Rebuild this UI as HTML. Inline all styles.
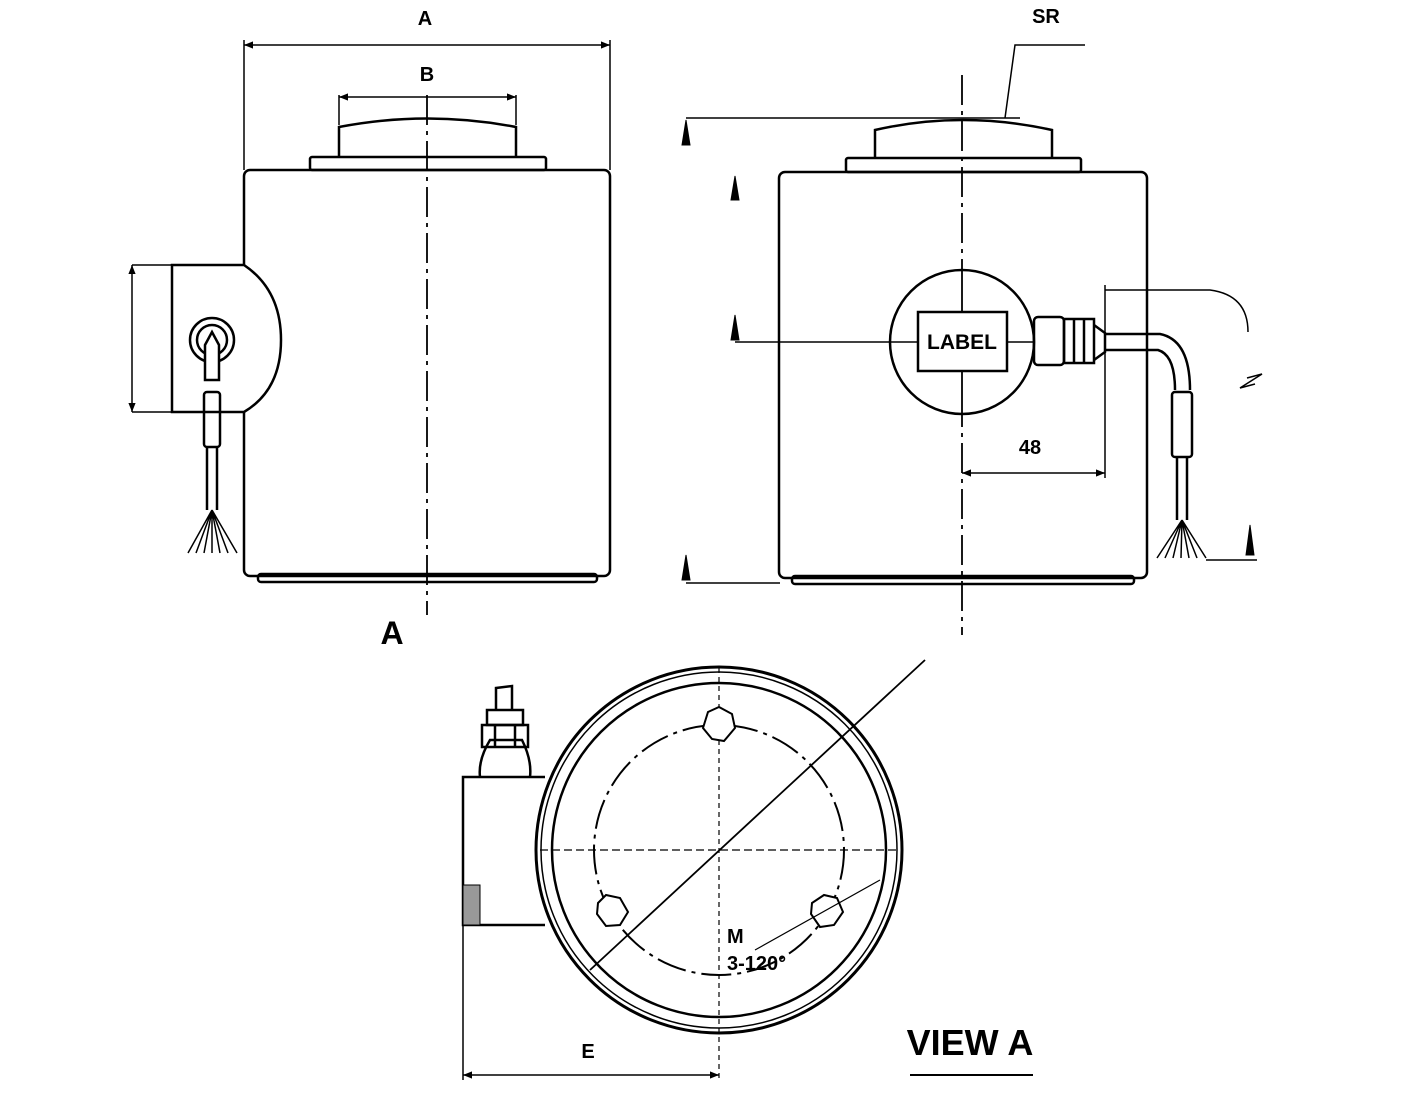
<!DOCTYPE html>
<html><head><meta charset="utf-8"><style>
html,body{margin:0;padding:0;background:#fff}
svg{display:block}
text{font-family:"Liberation Sans",Arial,sans-serif;font-weight:bold;fill:#000}
</style></head><body>
<svg width="1410" height="1117" viewBox="0 0 1410 1117" xmlns="http://www.w3.org/2000/svg">
<defs>
<marker id="ar" viewBox="0 0 10 10" refX="10" refY="5" markerWidth="18" markerHeight="9" orient="auto-start-reverse" markerUnits="userSpaceOnUse"><path d="M0,1 L10,5 L0,9 z" fill="#000"/></marker>
</defs>
<g fill="none" stroke="#000" stroke-width="2.5">
<rect x="244" y="170" width="366" height="406" rx="6"/>
<rect x="258" y="574" width="339" height="8" rx="3"/>
<rect x="310" y="157" width="236" height="13" rx="2"/>
<path d="M339,157 V127 Q427,110 516,127 V157"/>
<line x1="244" y1="170" x2="244" y2="40" stroke-width="1.5"/>
<line x1="610" y1="170" x2="610" y2="40" stroke-width="1.5"/>
<line x1="244" y1="45" x2="610" y2="45" stroke-width="1.5" marker-start="url(#ar)" marker-end="url(#ar)"/>
<line x1="339" y1="125" x2="339" y2="95" stroke-width="1.5"/>
<line x1="516" y1="125" x2="516" y2="95" stroke-width="1.5"/>
<line x1="339" y1="97" x2="516" y2="97" stroke-width="1.5" marker-start="url(#ar)" marker-end="url(#ar)"/>
<line x1="427" y1="95" x2="427" y2="615" stroke-width="1.8" stroke-dasharray="30,6,4,6"/>
<path d="M244,265 H172 V412 H244 Q281,390 281,340 Q281,290 244,265" fill="#fff"/>
<line x1="132" y1="265" x2="172" y2="265" stroke-width="1.5"/>
<line x1="132" y1="412" x2="172" y2="412" stroke-width="1.5"/>
<line x1="132" y1="265" x2="132" y2="412" stroke-width="1.5" marker-start="url(#ar)" marker-end="url(#ar)"/>
<circle cx="212" cy="340" r="22"/>
<circle cx="212" cy="340" r="15"/>
<path d="M205,345 V380 H219 V345 L212,332 z" fill="#fff"/>
<rect x="204" y="392" width="16" height="55" rx="3"/>
<line x1="207" y1="447" x2="207" y2="510"/><line x1="217" y1="447" x2="217" y2="510"/>
<path d="M212,510 L188,553 M212,510 L196,553 M212,510 L204,553 M212,510 L212,553 M212,510 L220,553 M212,510 L228,553 M212,510 L237,553" stroke-width="1.5"/>
<rect x="779" y="172" width="368" height="406" rx="6"/>
<rect x="792" y="576" width="342" height="8" rx="3"/>
<rect x="846" y="158" width="235" height="14" rx="2"/>
<path d="M875,158 V130 Q962,110 1052,130 V158"/>
<line x1="962" y1="75" x2="962" y2="635" stroke-width="1.8" stroke-dasharray="30,6,4,6"/>
<line x1="686" y1="118" x2="1020" y2="118" stroke-width="1.5"/>
<line x1="686" y1="583" x2="780" y2="583" stroke-width="1.5"/>
<path d="M686,120 L682,145 L690,145 z M735,176 L731,200 L739,200 z M735,315 L731,340 L739,340 z M686,555 L682,580 L690,580 z M1250,525 L1246,555 L1254,555 z" fill="#000" stroke-width="1"/>
<line x1="735" y1="342" x2="890" y2="342" stroke-width="1.5"/>
<path d="M1085,45 H1015 L1005,118" stroke-width="1.5"/>
<circle cx="962" cy="342" r="72" fill="#fff"/>
<rect x="918" y="312" width="89" height="59" fill="#fff"/>
<line x1="962" y1="270" x2="962" y2="312" stroke-width="1.8"/>
<line x1="962" y1="371" x2="962" y2="414" stroke-width="1.8"/>
<line x1="890" y1="342" x2="918" y2="342" stroke-width="1.5"/>
<line x1="1007" y1="342" x2="1034" y2="342" stroke-width="1.5"/>
<rect x="1034" y="317" width="30" height="48" rx="4"/>
<rect x="1064" y="319" width="30" height="44"/>
<line x1="1074" y1="319" x2="1074" y2="363"/><line x1="1084" y1="319" x2="1084" y2="363"/>
<path d="M1094,325 L1105,333 V352 L1094,360"/>
<path d="M1105,334 H1160 Q1190,340 1190,390 M1105,350 H1158 Q1175,355 1175,390"/>
<rect x="1172" y="392" width="20" height="65" rx="3"/>
<line x1="1177" y1="457" x2="1177" y2="520"/><line x1="1187" y1="457" x2="1187" y2="520"/>
<path d="M1182,520 L1157,558 M1182,520 L1165,558 M1182,520 L1173,558 M1182,520 L1181,558 M1182,520 L1189,558 M1182,520 L1197,558 M1182,520 L1206,558" stroke-width="1.5"/>
<line x1="1206" y1="560" x2="1257" y2="560" stroke-width="1.5"/>
<line x1="1105" y1="285" x2="1105" y2="478" stroke-width="1.5"/>
<path d="M1105,290 H1210 Q1248,295 1248,332" stroke-width="1.5"/>
<line x1="962" y1="473" x2="1105" y2="473" stroke-width="1.5" marker-start="url(#ar)" marker-end="url(#ar)"/>
<path d="M1247,378 L1262,374 L1240,388 L1255,384" stroke-width="1.5"/>
<path d="M545,777 H463 V925 H545"/>
<path d="M480,777 Q478,760 490,740 H522 Q532,760 530,777"/>
<rect x="482" y="725" width="46" height="22"/>
<line x1="495" y1="725" x2="495" y2="747"/><line x1="515" y1="725" x2="515" y2="747"/>
<rect x="487" y="710" width="36" height="15"/>
<path d="M496,710 V688 L512,686 V710"/>
<path d="M463,885 H480 V925 H463 z" fill="#999" stroke-width="1"/>
<circle cx="719" cy="850" r="183" fill="#fff" stroke-width="3"/>
<circle cx="719" cy="850" r="178" stroke-width="1.5"/>
<circle cx="719" cy="850" r="167"/>
<circle cx="719" cy="850" r="125" stroke-width="2" stroke-dasharray="30,6,4,6"/>
<line x1="719" y1="668" x2="719" y2="1078" stroke-width="1.2" stroke-dasharray="5,4"/>
<line x1="540" y1="850" x2="900" y2="850" stroke-width="1.2" stroke-dasharray="8,4"/>
<line x1="925" y1="660" x2="590" y2="970" stroke-width="1.8"/>
<g stroke-width="2">
<path d="M708,712 L719,707 L732,714 L735,728 L724,741 L712,739 L703,728 z" fill="#fff"/>
<path d="M598,903 L606,895 L620,898 L628,912 L620,925 L606,926 L597,914 z" fill="#fff"/>
<path d="M812,903 L824,895 L837,898 L843,912 L834,925 L820,927 L811,914 z" fill="#fff"/>
</g>
<line x1="755" y1="950" x2="880" y2="880" stroke-width="1.2"/>
<line x1="463" y1="925" x2="463" y2="1080" stroke-width="1.5"/>
<line x1="463" y1="1075" x2="719" y2="1075" stroke-width="1.5" marker-start="url(#ar)" marker-end="url(#ar)"/>
<line x1="910" y1="1075" x2="1033" y2="1075" stroke-width="2"/>
</g>
<text x="425" y="25" font-size="20" text-anchor="middle">A</text>
<text x="427" y="81" font-size="20" text-anchor="middle">B</text>
<text x="1046" y="23" font-size="20" text-anchor="middle">SR</text>
<text x="962" y="349" font-size="21" text-anchor="middle">LABEL</text>
<text x="1030" y="454" font-size="20" text-anchor="middle">48</text>
<text x="392" y="644" font-size="32" text-anchor="middle">A</text>
<text x="727" y="943" font-size="20">M</text>
<text x="727" y="970" font-size="20">3-120°</text>
<text x="588" y="1058" font-size="20" text-anchor="middle">E</text>
<text x="970" y="1055" font-size="36" text-anchor="middle">VIEW A</text>
</svg>
</body></html>
